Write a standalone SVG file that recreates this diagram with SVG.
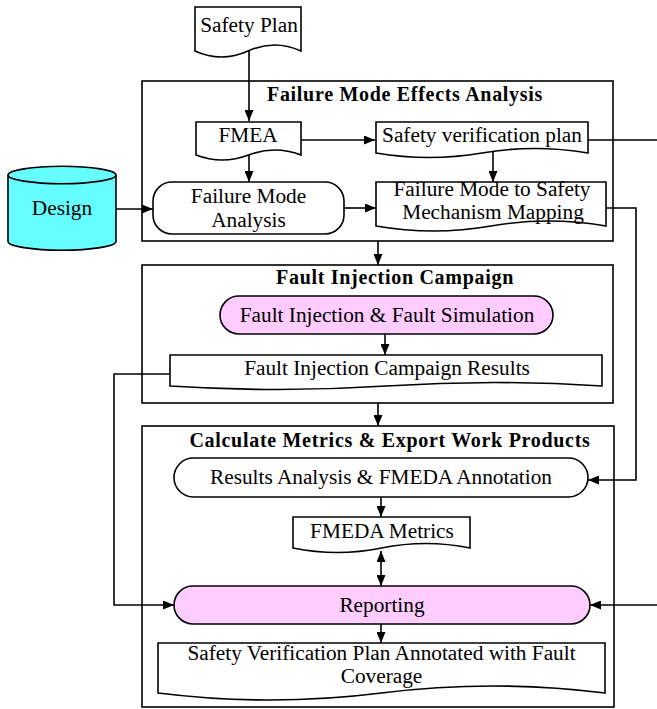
<svg xmlns="http://www.w3.org/2000/svg" width="657" height="709" viewBox="0 0 657 709">
<defs>
<marker id="arr" markerUnits="userSpaceOnUse" markerWidth="11" markerHeight="9" refX="11" refY="4.5" orient="auto-start-reverse">
<path d="M0,0 L11,4.5 L0,9 Z" fill="#000"/>
</marker>
<style>
.box{fill:none;stroke:#000;stroke-width:1.6}
.shp{fill:#fff;stroke:#000;stroke-width:1.6}
.pink{fill:#FFCCFF;stroke:#000;stroke-width:1.6}
.cyan{fill:#66FFFF;stroke:#000;stroke-width:1.6}
.t{font-family:"Liberation Serif","Times New Roman",serif;font-size:21.3px;fill:#000;text-anchor:middle}
.h{font-family:"Liberation Serif","Times New Roman",serif;font-size:20px;font-weight:bold;letter-spacing:0.7px;fill:#000;text-anchor:middle}
.c{fill:none;stroke:#000;stroke-width:1.6}
.a{marker-end:url(#arr)}
</style>
</defs>
<rect width="657" height="709" fill="#fff"/>

<g id="fmea-group">
<rect class="box" x="142" y="81" width="471" height="160"/>
<text class="h" x="405" y="101">Failure Mode Effects Analysis</text>
</g>
<g id="fic-group">
<rect class="box" x="142" y="265" width="471" height="138"/>
<text class="h" x="395" y="284">Fault Injection Campaign</text>
</g>
<g id="calc-group">
<rect class="box" x="142" y="426" width="472" height="281"/>
<text class="h" x="390" y="447">Calculate Metrics &amp; Export Work Products</text>
</g>

<g id="connectors">
<path class="c a" d="M249 50 V121"/>
<path class="c a" d="M301 140 H375"/>
<path class="c a" d="M249 155 V182"/>
<path class="c a" d="M493 152 V182"/>
<path class="c a" d="M116 209 H153"/>
<path class="c a" d="M344 208 H376"/>
<path class="c a" d="M606 208 H636 V480 H588"/>
<path class="c a" d="M588 140 H690 V605 H590"/>
<path class="c a" d="M378 241 V265"/>
<path class="c a" d="M385 334 V355"/>
<path class="c a" d="M170 374 H114 V605 H174"/>
<path class="c a" d="M378 403 V426"/>
<path class="c a" d="M381 497 V517"/>
<path class="c a" d="M381 551 V586" marker-start="url(#arr)"/>
<path class="c a" d="M381 624 V643"/>
</g>

<g id="safety-plan">
<path class="shp" d="M195 7 H301 V51 Q274.5 39 248 51 T195 51 Z"/>
<text class="t" x="249" y="32">Safety Plan</text>
</g>
<g id="fmea">
<path class="shp" d="M196 122 H301 V155 Q274.75 145 248.5 155 T196 155 Z"/>
<text class="t" x="248" y="142">FMEA</text>
</g>
<g id="svp">
<path class="shp" d="M376 122 H588 V153 Q535 144 482 153 T376 153 Z"/>
<text class="t" x="482" y="142">Safety verification plan</text>
</g>
<g id="design">
<path class="cyan" d="M8 175 V241.5 A54 8.7 0 0 0 116 241.5 V175 A54 8.7 0 0 0 8 175 Z"/>
<path class="c" d="M8 175 A54 8.7 0 0 0 116 175"/>
<text class="t" x="62" y="215">Design</text>
</g>
<g id="fma">
<rect class="shp" x="153" y="182" width="191" height="52" rx="19"/>
<text class="t" x="248.5" y="203">Failure Mode</text>
<text class="t" x="248.5" y="227">Analysis</text>
</g>
<g id="fm-sm">
<path class="shp" d="M376 182 H606 V226 Q548.5 216 491 226 T376 226 Z"/>
<text class="t" x="492" y="196">Failure Mode to Safety</text>
<text class="t" x="493" y="219">Mechanism Mapping</text>
</g>
<g id="fi-fs">
<rect class="pink" x="220" y="296" width="333" height="38" rx="19"/>
<text class="t" x="387" y="322">Fault Injection &amp; Fault Simulation</text>
</g>
<g id="ficr">
<path class="shp" d="M170 355 H602 V386 Q494 379 386 386 T170 386 Z"/>
<text class="t" x="387" y="375">Fault Injection Campaign Results</text>
</g>
<g id="results">
<rect class="shp" x="174" y="458" width="414" height="39" rx="19.5"/>
<text class="t" x="381" y="484">Results Analysis &amp; FMEDA Annotation</text>
</g>
<g id="fmeda-metrics">
<path class="shp" d="M293 517 H470 V548 Q425.75 539 381.5 548 T293 548 Z"/>
<text class="t" x="382" y="538">FMEDA Metrics</text>
</g>
<g id="reporting">
<rect class="pink" x="174" y="586" width="416" height="38" rx="19"/>
<text class="t" x="382" y="612">Reporting</text>
</g>
<g id="svpa">
<path class="shp" d="M158 643 H605 V693 Q493 679 381.5 693 T158 693 Z"/>
<text class="t" x="381.5" y="660">Safety Verification Plan Annotated with Fault</text>
<text class="t" x="381.5" y="683">Coverage</text>
</g>
</svg>
